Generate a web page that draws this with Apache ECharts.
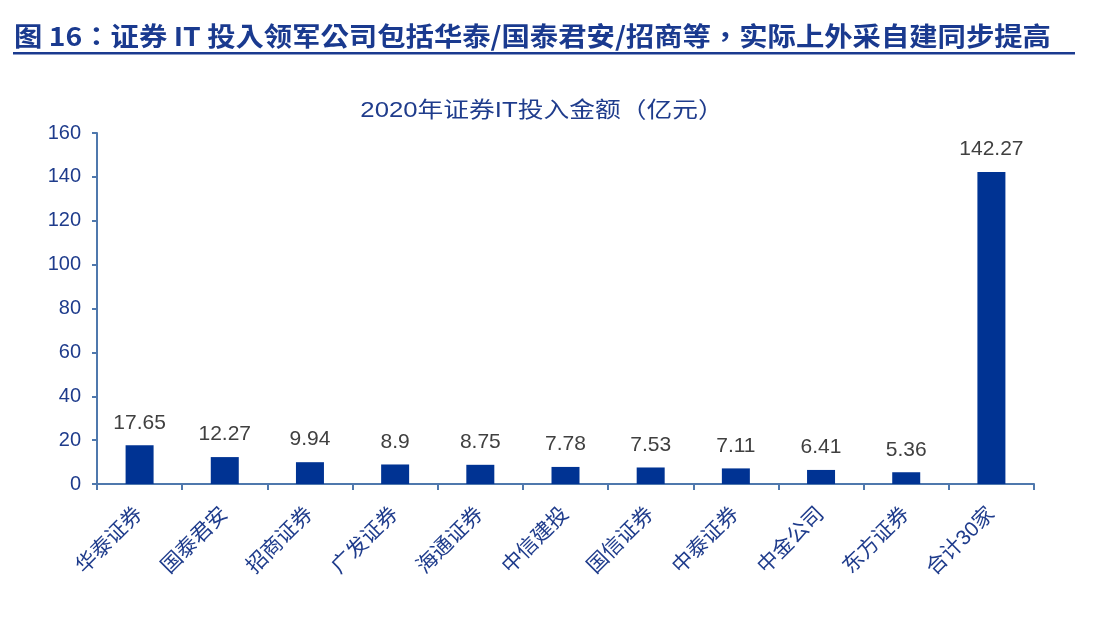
<!DOCTYPE html>
<html><head><meta charset="utf-8">
<script src="https://cdn.jsdelivr.net/npm/echarts@6/dist/echarts.min.js"></script>
<style>html,body{margin:0;padding:0;background:#fff;}#c{width:1100px;height:638px;}</style>
</head><body><div id="c"></div>
<script>
const categories = ['华泰证券','国泰君安','招商证券','广发证券','海通证券','中信建投','国信证券','中泰证券','中金公司','东方证券','合计30家'];
const values = [17.65, 12.27, 9.94, 8.9, 8.75, 7.78, 7.53, 7.11, 6.41, 5.36, 142.27];
const yTicks = {min: 0, max: 160, interval: 20};
const mainTitle = '图 16：证券 IT 投入领军公司包括华泰/国泰君安/招商等，实际上外采自建同步提高';
const chartTitle = '2020年证券IT投入金额（亿元）';

const font = '"Liberation Sans", Arial, "Noto Sans CJK SC", sans-serif';
const chart = echarts.init(document.getElementById('c'));
chart.setOption({
  animation: false,
  backgroundColor: '#fff',
  graphic: [
    {type: 'text', x: 14, y: 36, scaleX: 1.09, style: {text: mainTitle, font: 'bold 26px "Noto Sans CJK TC", sans-serif', fill: '#1a3a8f', textAlign: 'left', textVerticalAlign: 'middle'}},
    {type: 'rect', shape: {x: 13, y: 52, width: 1062, height: 2.5}, style: {fill: '#1a3a8f'}},
    {type: 'text', x: 542, y: 111, scaleX: 1.17, style: {text: chartTitle, font: '22px "Liberation Sans", Arial, "Noto Sans CJK SC", sans-serif', fill: '#1f3c8c', textAlign: 'center', textVerticalAlign: 'middle'}}
  ],
  grid: {left: 97, right: 66, top: 133, bottom: 154, containLabel: false},
  xAxis: {
    type: 'category', data: categories,
    axisLine: {lineStyle: {color: '#4f78ad', width: 2}},
    axisTick: {show: true, alignWithLabel: false, length: 6, lineStyle: {color: '#4f78ad', width: 2}},
    axisLabel: {rotate: 45, interval: 0, fontFamily: font, fontSize: 21, color: '#1f3c8c', margin: 27}
  },
  yAxis: {
    type: 'value', min: yTicks.min, max: yTicks.max, interval: yTicks.interval,
    axisLine: {show: true, lineStyle: {color: '#4f78ad', width: 2}},
    axisTick: {show: true, inside: false, length: 5, lineStyle: {color: '#4f78ad', width: 2}},
    splitLine: {show: false},
    axisLabel: {fontFamily: font, fontSize: 20, color: '#1f3c8c', margin: 16}
  },
  series: [{
    type: 'bar', data: values, barWidth: 28,
    itemStyle: {color: '#003393'},
    label: {show: true, position: 'top', distance: 12, fontFamily: font, fontSize: 21, color: '#404040'}
  }]
});
</script></body></html>
